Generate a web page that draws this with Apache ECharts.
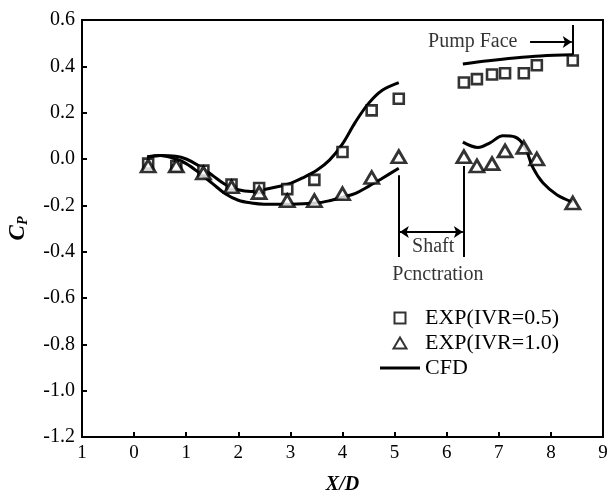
<!DOCTYPE html>
<html>
<head>
<meta charset="utf-8">
<script src="https://cdn.jsdelivr.net/npm/echarts@6/dist/echarts.min.js"></script>
<style>
  html, body { margin: 0; padding: 0; background: #fff; }
  #chart { width: 608px; height: 493px; }
</style>
</head>
<body>
<div id="chart"></div>
<script>
// Measurement stations along the duct (X/D)
const stationX = [0.27, 0.81, 1.33, 1.87, 2.40, 2.94, 3.46, 4.00, 4.56, 5.08,
                  6.33, 6.58, 6.87, 7.12, 7.48, 7.73, 8.42];
// Experimental wall pressure coefficient, IVR = 0.5
const expIVR05 = [-0.02, -0.03, -0.05, -0.11, -0.125, -0.13, -0.09, 0.03, 0.21, 0.26,
                  0.33, 0.345, 0.365, 0.37, 0.37, 0.405, 0.425];
// Experimental wall pressure coefficient, IVR = 1.0
const expIVR10 = [-0.03, -0.03, -0.06, -0.12, -0.145, -0.18, -0.18, -0.15, -0.08, 0.01,
                  0.01, -0.03, -0.02, 0.035, 0.05, 0.0, -0.19];

// CFD, IVR = 0.5, upstream of shaft
const cfd05UpX = [0.25, 0.5, 0.8, 1.0, 1.25, 1.5, 1.75, 2.0, 2.25, 2.5, 2.75, 3.0, 3.25, 3.5, 3.75, 4.0, 4.25, 4.5, 4.75, 5.08];
const cfd05UpY = [0.005, 0.015, 0.012, 0.0, -0.03, -0.07, -0.11, -0.133, -0.14, -0.132, -0.12, -0.105, -0.08, -0.05, -0.005, 0.065, 0.16, 0.24, 0.295, 0.33];
// CFD, IVR = 1.0, upstream of shaft
const cfd10UpX = [0.25, 0.5, 0.8, 1.0, 1.25, 1.5, 1.75, 2.0, 2.25, 2.5, 3.0, 3.5, 3.75, 4.0, 4.25, 4.5, 4.75, 5.08];
const cfd10UpY = [0.01, 0.015, 0.0, -0.02, -0.06, -0.105, -0.15, -0.178, -0.19, -0.195, -0.195, -0.19, -0.18, -0.165, -0.148, -0.118, -0.085, -0.04];
// CFD, IVR = 0.5, downstream of shaft
const cfd05DnX = [6.31, 6.8, 7.3, 7.8, 8.42];
const cfd05DnY = [0.41, 0.424, 0.436, 0.445, 0.45];
// CFD, IVR = 1.0, downstream of shaft
const cfd10DnX = [6.31, 6.6, 6.83, 7.08, 7.31, 7.5, 7.65, 7.85, 8.12, 8.42];
const cfd10DnY = [0.073, 0.05, 0.07, 0.1, 0.095, 0.052, -0.035, -0.104, -0.155, -0.186];

// Axis tick labels
const xTickLabels = ['1', '0', '1', '2', '3', '4', '5', '6', '7', '8', '9'];
const xTickValues = [-1, 0, 1, 2, 3, 4, 5, 6, 7, 8, 9];

// Shaft penetration span and pump face location
const shaftSpan = [5.08, 6.33];
const shaftArrowY = -0.315;
const shaftLineY = [[-0.07, -0.423], [-0.03, -0.423]];
const pumpFaceX = 8.42;
const pumpArrow = [[7.6, 0.505], [8.40, 0.505]];
const pumpLineY = [0.578, 0.45];

const FONT = "'Liberation Serif', 'Times New Roman', serif";
const zip = (xs, ys) => xs.map((x, i) => [x, ys[i]]);

const chart = echarts.init(document.getElementById('chart'), null, { renderer: 'canvas' });

const cfdStyle = { color: '#000', width: 3 };
function cfdSeries(xs, ys) {
  return {
    name: 'CFD', type: 'line', data: zip(xs, ys), smooth: 0.35,
    symbol: 'none', showSymbol: false, lineStyle: cfdStyle, itemStyle: { color: '#000' },
    z: 3, silent: true
  };
}

const SQ_ICON = 'path://M0,0H10V10H0Z';
const TRI_ICON = 'path://M6.5,0L13,11H0Z';
const LINE_ICON = 'path://M0,0H40V3H0Z';

const option = {
  animation: false,
  backgroundColor: '#fff',
  grid: {
    left: 82, right: 5, top: 20, bottom: 56,
    containLabel: false, outerBoundsMode: 'none',
    show: true, borderColor: '#000', borderWidth: 2
  },
  xAxis: {
    type: 'value', min: -1, max: 9, interval: 1,
    name: 'X/D', nameLocation: 'middle', nameGap: 38,
    nameTextStyle: { fontFamily: FONT, fontSize: 20, fontWeight: 'bold', fontStyle: 'italic', color: '#000' },
    axisLine: { onZero: false, lineStyle: { color: '#000', width: 2 } },
    axisTick: { inside: true, length: 5, lineStyle: { color: '#000', width: 2 } },
    axisLabel: {
      fontFamily: FONT, fontSize: 19, color: '#000', margin: 7,
      formatter: v => {
        const i = xTickValues.findIndex(t => Math.abs(t - v) < 1e-6);
        return i >= 0 ? xTickLabels[i] : '';
      }
    },
    splitLine: { show: false }
  },
  yAxis: {
    type: 'value', min: -1.2, max: 0.6, interval: 0.2,
    name: '{c|C}{p|P}', nameLocation: 'middle', nameGap: 52, nameRotate: 90,
    nameTextStyle: {
      rich: {
        c: { fontFamily: FONT, fontSize: 23, fontWeight: 'bold', fontStyle: 'italic', color: '#000' },
        p: { fontFamily: FONT, fontSize: 14, fontWeight: 'bold', fontStyle: 'italic', color: '#000', verticalAlign: 'bottom', padding: [8, 0, 0, 0] }
      }
    },
    axisLine: { onZero: false, lineStyle: { color: '#000', width: 2 } },
    axisTick: { inside: true, length: 5, lineStyle: { color: '#000', width: 2 } },
    axisLabel: { fontFamily: FONT, fontSize: 20, color: '#000', margin: 7, formatter: v => v.toFixed(1) },
    splitLine: { show: false }
  },
  legend: {
    orient: 'vertical', left: 375, top: 302,
    itemWidth: 40, itemHeight: 11, itemGap: 3,
    symbolKeepAspect: true,
    textStyle: { fontFamily: FONT, fontSize: 22, color: '#000' },
    data: [
      { name: 'EXP(IVR=0.5)', icon: SQ_ICON },
      { name: 'EXP(IVR=1.0)', icon: TRI_ICON },
      { name: 'CFD', icon: LINE_ICON }
    ],
    selectedMode: false
  },
  series: [
    cfdSeries(cfd05UpX, cfd05UpY),
    cfdSeries(cfd10UpX, cfd10UpY),
    cfdSeries(cfd05DnX, cfd05DnY),
    cfdSeries(cfd10DnX, cfd10DnY),
    {
      name: 'EXP(IVR=0.5)', type: 'scatter', data: zip(stationX, expIVR05),
      symbol: 'rect', symbolSize: 10,
      itemStyle: { color: '#fff', borderColor: '#000', borderWidth: 2.6 }, z: 4
    },
    {
      name: 'EXP(IVR=1.0)', type: 'scatter', data: zip(stationX, expIVR10),
      symbol: 'triangle', symbolSize: [14, 12],
      itemStyle: { color: '#fff', borderColor: '#000', borderWidth: 2.8 }, z: 5
    },
    // Shaft penetration markers and pump face marker
    {
      type: 'lines', coordinateSystem: 'cartesian2d', silent: true, z: 2,
      lineStyle: { color: '#000', width: 2, opacity: 1 },
      symbol: ['none', 'none'],
      data: [
        { coords: [[shaftSpan[0], shaftLineY[0][0]], [shaftSpan[0], shaftLineY[0][1]]] },
        { coords: [[shaftSpan[1], shaftLineY[1][0]], [shaftSpan[1], shaftLineY[1][1]]] },
        { coords: [[pumpFaceX, pumpLineY[0]], [pumpFaceX, pumpLineY[1]]] }
      ]
    },
    {
      type: 'lines', coordinateSystem: 'cartesian2d', silent: true, z: 2,
      lineStyle: { color: '#000', width: 2, opacity: 1 },
      symbol: ['arrow', 'arrow'], symbolSize: 9,
      data: [{ coords: [[shaftSpan[0] + 0.02, shaftArrowY], [shaftSpan[1] - 0.02, shaftArrowY]] }]
    },
    {
      type: 'lines', coordinateSystem: 'cartesian2d', silent: true, z: 2,
      lineStyle: { color: '#000', width: 2, opacity: 1 },
      symbol: ['none', 'arrow'], symbolSize: 9,
      data: [{ coords: pumpArrow }]
    },
    // Text annotations
    {
      type: 'scatter', silent: true, symbolSize: 0, z: 6,
      label: {
        show: true, position: 'inside', formatter: p => p.data.name,
        fontFamily: FONT, fontSize: 20, color: '#000'
      },
      data: [
        { name: 'Shaft', value: [5.74, -0.38] },
        { name: 'Pcnctration', value: [5.83, -0.50] },
        { name: 'Pump Face', value: [6.50, 0.505] }
      ]
    }
  ]
};

chart.setOption(option);
</script>
</body>
</html>
